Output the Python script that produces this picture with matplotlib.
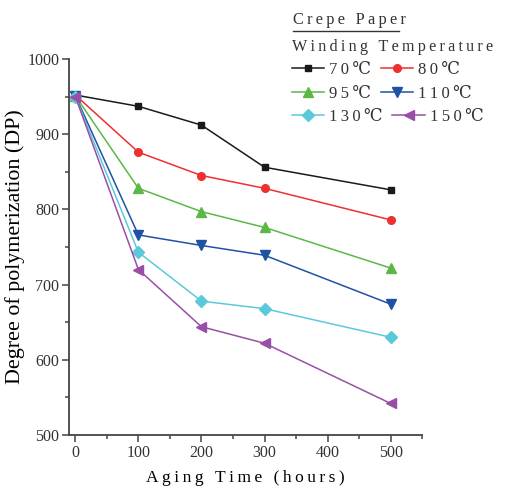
import numpy as np
import matplotlib.pyplot as plt
from matplotlib.ticker import MultipleLocator

# ── data ────────────────────────────────────────────────────────────────────
hours = [0, 100, 200, 300, 500]
temps = ["70℃", "80℃", "95℃", "110℃", "130℃", "150℃"]
dp_70 = [952, 937, 912, 856, 826]
dp_80 = [952, 876, 845, 828, 786]
dp_95 = [951, 828, 797, 776, 722]
dp_110 = [951, 766, 752, 739, 674]
dp_130 = [950, 743, 678, 668, 630]
dp_150 = [950, 720, 644, 622, 542]

series = [dp_70, dp_80, dp_95, dp_110, dp_130, dp_150]
colors = ["#1a1a1a", "#ee3030", "#5cb846", "#1f52a5", "#5cc9da", "#9a4fa6"]
markers = ["s", "o", "^", "v", "D", "<"]
sizes = [5, 5.5, 7.5, 7.5, 6.5, 7.5]

SERIF = ["Liberation Serif", "DejaVu Serif"]
plt.rcParams["font.family"] = SERIF
plt.rcParams["text.color"] = "#333333"


def spaced(s, gap="\u2009"):
    # poor man's letter spacing
    return gap.join(s)


# ── figure ──────────────────────────────────────────────────────────────────
fig = plt.figure(figsize=(5.09, 4.91), dpi=100)
ax = fig.add_axes([0.1356, 0.114, 0.8294 - 0.1356, 0.880 - 0.114])

handles = []
for vals, c, m, ms, lab in zip(series, colors, markers, sizes, temps):
    (h,) = ax.plot(hours, vals, color=c, marker=m, markersize=ms, lw=1.1,
                   markeredgecolor=c, label=spaced(lab))
    handles.append(h)

ax.set_xlim(-10, 550)
ax.set_ylim(500, 1000)
ax.xaxis.set_major_locator(MultipleLocator(100))
ax.xaxis.set_minor_locator(MultipleLocator(50))
ax.yaxis.set_major_locator(MultipleLocator(100))
ax.yaxis.set_minor_locator(MultipleLocator(50))
ax.spines[["top", "right"]].set_visible(False)
for s in ("left", "bottom"):
    ax.spines[s].set_linewidth(1.3)
    ax.spines[s].set_color("#444444")
ax.tick_params(which="both", direction="out", color="#444444", width=1.1,
               labelsize=11.5, labelcolor="#333333")
ax.tick_params(which="major", length=5, pad=2)
ax.tick_params(which="minor", length=3)

ax.set_xlabel(spaced("Aging Time (hours)"), fontsize=12.5, labelpad=7)
ax.set_ylabel("Degree of polymerization (DP)", fontsize=15.8, labelpad=2)

# legend heading
x0 = 293 / 509
fig.text(x0, 1 - 20 / 491, spaced("Crepe Paper"), fontsize=11.8, va="center")
fig.add_artist(plt.Line2D([x0, 399 / 509], [1 - 31 / 491, 1 - 31 / 491],
                          color="#333333", lw=1.0))
fig.text(x0 - 0.002, 1 - 47 / 491, spaced("Winding Temperature"),
         fontsize=11.6, va="center")

# one legend per row so each row keeps its own spacing
rows = [(0, 1), (2, 3), (4, 5)]
row_y = [70, 94, 117]
for (i, j), yc in zip(rows, row_y):
    leg = fig.legend([handles[i], handles[j]],
                     [spaced(temps[i]), spaced(temps[j])],
                     ncol=2, loc="center left",
                     bbox_to_anchor=(x0 - 0.002, 1 - yc / 491),
                     frameon=False, fontsize=12, borderpad=0, borderaxespad=0,
                     handlelength=1.95, handletextpad=0.3, columnspacing=0.55)

fig.savefig("out.png", dpi=100)
